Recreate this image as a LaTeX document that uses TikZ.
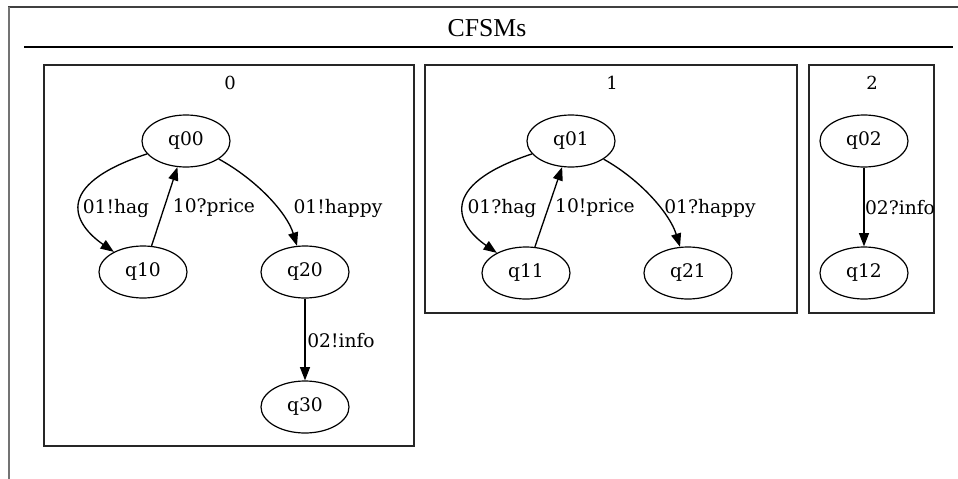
\documentclass[tikz,border=0pt]{standalone}
\usepackage{fontspec}
\setmainfont{DejaVu Serif}
\newfontfamily\titlefont{Liberation Serif}
\usetikzlibrary{arrows.meta,shapes.geometric}

\tikzset{
  state/.style={draw, line width=0.9pt, ellipse, minimum width=66pt, minimum height=39pt,
                inner sep=0pt, font=\fontsize{14}{16}\selectfont},
  edge/.style={draw, line width=1pt, -{Triangle[length=10pt,width=7.5pt]}},
  elabel/.style={inner sep=0pt, font=\fontsize{14}{16}\selectfont},
  cluster/.style={draw, line width=1.3pt, black!85},
  clabel/.style={inner sep=0pt, font=\fontsize{13.5}{15}\selectfont},
}

\begin{document}
\begin{tikzpicture}[x=0.75pt, y=-0.75pt]
\useasboundingbox (0,0) rectangle (958,479);

% outer frame and heading
\draw[line width=1pt, black!75] (8,7) -- (958,7);
\draw[line width=1pt, black!55] (9,7) -- (9,479);
\node[inner sep=0pt, font=\titlefont\fontsize{19.3}{22}\selectfont] (title) at (487,28.5) {CFSMs};
\draw[line width=0.9pt] (24,47) -- (953,47);

% machine 0
\draw[cluster] (44,65) rectangle (414,446);
\node[clabel] (c0) at (230,83) {0};
\node[state] (q00) at (186,141) {q00};
\node[state] (q10) at (143,272) {q10};
\node[state] (q20) at (305,272) {q20};
\node[state] (q30) at (305,407) {q30};
\draw[edge] (q00) .. controls (50,186) and (75,225) .. (q10);
\draw[edge] (q10) -- (q00);
\draw[edge] (q00) .. controls (257,180) and (287,213) .. (q20);
\draw[edge] (q20) -- (q30);
\node[elabel] (l0a) at (116,208) {01!hag};
\node[elabel] (l0b) at (214,208) {10?price};
\node[elabel] (l0c) at (338,208) {01!happy};
\node[elabel] (l0d) at (341,341) {02!info};

% machine 1
\draw[cluster] (425,65) rectangle (797,313);
\node[clabel] (c1) at (612,83) {1};
\node[state] (q01) at (571,141) {q01};
\node[state] (q11) at (526,273) {q11};
\node[state] (q21) at (688,273) {q21};
\draw[edge] (q01) .. controls (435,186) and (458,226) .. (q11);
\draw[edge] (q11) -- (q01);
\draw[edge] (q01) .. controls (641,180) and (670,214) .. (q21);
\node[elabel] (l1a) at (502,208) {01?hag};
\node[elabel] (l1b) at (595,208) {10!price};
\node[elabel] (l1c) at (710,208) {01?happy};

% machine 2
\draw[cluster] (809,65) rectangle (934,313);
\node[clabel] (c2) at (872,83) {2};
\node[state] (q02) at (864,141) {q02};
\node[state] (q12) at (864,273) {q12};
\draw[edge] (q02) -- (q12);
\node[elabel] (l2a) at (900,208) {02?info};
\end{tikzpicture}
\end{document}
